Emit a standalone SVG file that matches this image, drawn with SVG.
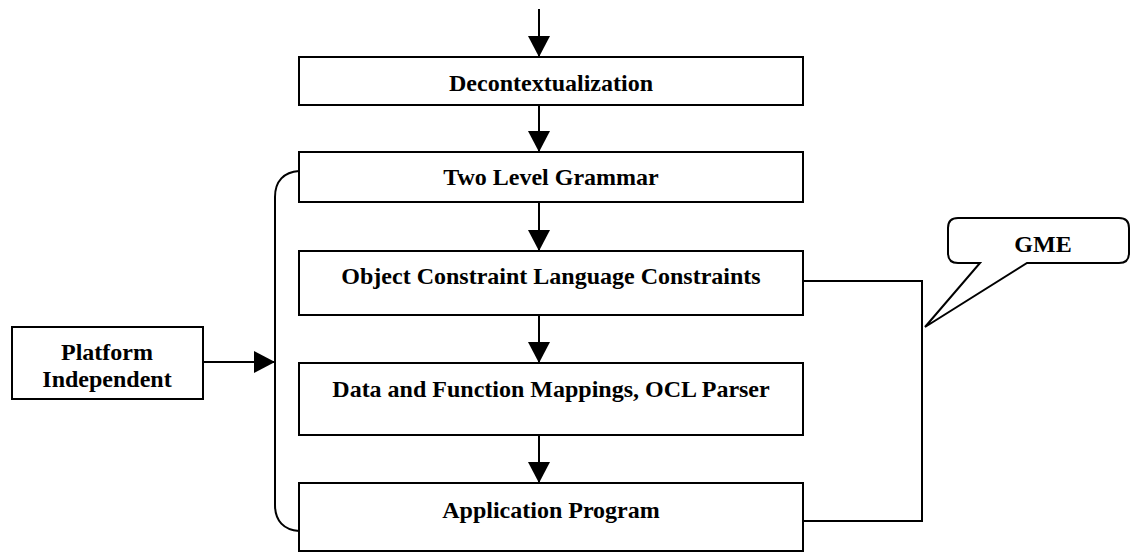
<svg xmlns="http://www.w3.org/2000/svg" width="1131" height="555" viewBox="0 0 1131 555">
<style>
.box{fill:#fff;stroke:#000;stroke-width:2}
.ln{fill:none;stroke:#000;stroke-width:2}
.t{font-family:"Liberation Serif","Times New Roman",serif;font-weight:bold;font-size:24px;fill:#000;text-anchor:middle}
</style>
<defs>
<marker id="ah" markerWidth="21" markerHeight="22" refX="21" refY="11" orient="auto" markerUnits="userSpaceOnUse">
<path d="M0,0 L21,11 L0,22 Z" fill="#000"/>
</marker>
</defs>
<g id="connectors">
<line class="ln" x1="539" y1="9" x2="539" y2="57" marker-end="url(#ah)"/>
<line class="ln" x1="539" y1="105" x2="539" y2="152" marker-end="url(#ah)"/>
<line class="ln" x1="539" y1="202" x2="539" y2="251" marker-end="url(#ah)"/>
<line class="ln" x1="539" y1="315" x2="539" y2="363" marker-end="url(#ah)"/>
<line class="ln" x1="539" y1="435" x2="539" y2="483" marker-end="url(#ah)"/>
<line class="ln" x1="203" y1="362" x2="275" y2="362" marker-end="url(#ah)"/>
<path class="ln" d="M299,171 C284,172 275,181 275,197 L275,505 C275,521 284,530 299,531"/>
<path class="ln" d="M803,281 L922,281 L922,521 L803,521"/>
</g>
<g id="decontextualization">
<rect class="box" x="299" y="57" width="504" height="48"/>
<text class="t" x="551" y="91">Decontextualization</text>
</g>
<g id="two-level-grammar">
<rect class="box" x="299" y="152" width="504" height="50"/>
<text class="t" x="551" y="185">Two Level Grammar</text>
</g>
<g id="ocl-constraints">
<rect class="box" x="299" y="251" width="504" height="64"/>
<text class="t" x="551" y="284">Object Constraint Language Constraints</text>
</g>
<g id="data-function-mappings">
<rect class="box" x="299" y="363" width="504" height="72"/>
<text class="t" x="551" y="397">Data and Function Mappings, OCL Parser</text>
</g>
<g id="application-program">
<rect class="box" x="299" y="483" width="504" height="68"/>
<text class="t" x="551" y="518">Application Program</text>
</g>
<g id="platform-independent">
<rect class="box" x="12" y="327" width="191" height="72"/>
<text class="t" x="107" y="360">Platform</text>
<text class="t" x="107" y="387">Independent</text>
</g>
<g id="gme">
<path class="box" d="M958,218 L1119,218 Q1129,218 1129,228 L1129,253 Q1129,263 1119,263 L1027,263 L925,327 L980,263 L958,263 Q948,263 948,253 L948,228 Q948,218 958,218 Z"/>
<text class="t" x="1043" y="252">GME</text>
</g>
</svg>
